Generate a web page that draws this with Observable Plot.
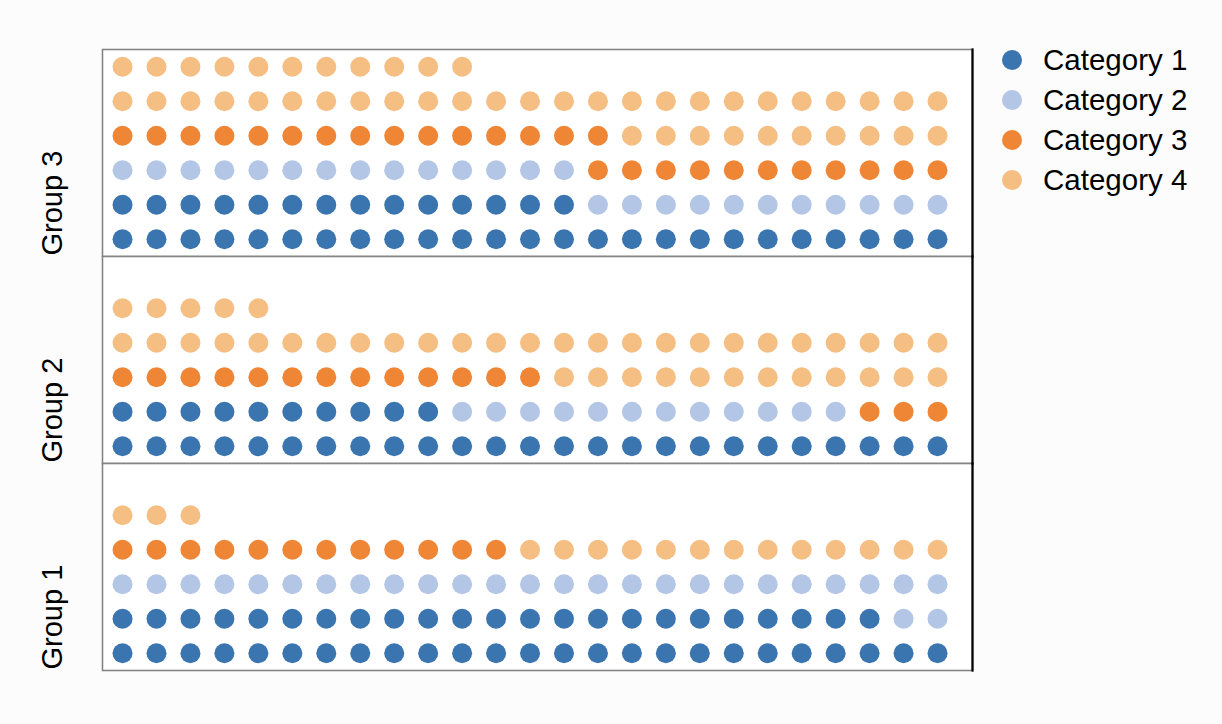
<!DOCTYPE html>
<html>
<head>
<meta charset="utf-8">
<script src="https://cdn.jsdelivr.net/npm/d3@7"></script>
<script src="https://cdn.jsdelivr.net/npm/@observablehq/plot@0.6"></script>
<style>
  html, body { margin: 0; padding: 0; background: #fcfcfc; }
  #wrap { position: relative; width: 1222px; height: 724px; font-family: "Liberation Sans", Arial, sans-serif; }
  #chart { position: absolute; left: 0; top: 0; }
  #legend { position: absolute; left: 980px; top: 0; }
</style>
</head>
<body>
<div id="wrap"><div id="chart"></div><div id="legend"></div></div>
<script>
// ---- data ----
const groups = ["Group 1", "Group 2", "Group 3"];
const categories = ["Category 1", "Category 2", "Category 3", "Category 4"];
const colors = ["#3a75b0", "#b3c6e6", "#ef8636", "#f5bf84"];
const group1Counts = [48, 27, 12, 16];
const group2Counts = [35, 12, 16, 42];
const group3Counts = [39, 25, 26, 46];
const columnsPerRow = 25;

const countsByGroup = [group1Counts, group2Counts, group3Counts];

// waffle layout: fill left-to-right, bottom-to-top
const dots = [];
groups.forEach((g, gi) => {
  let i = 0;
  countsByGroup[gi].forEach((n, ci) => {
    for (let k = 0; k < n; ++k, ++i) {
      dots.push({group: g, category: categories[ci], col: (i % columnsPerRow) + 1, row: Math.floor(i / columnsPerRow) + 1});
    }
  });
});
const maxRows = d3.max(dots, d => d.row);

const chart = Plot.plot({
  width: 980,
  height: 724,
  marginLeft: 102,
  marginRight: 8,
  marginTop: 49,
  marginBottom: 54,
  style: {background: "transparent", fontFamily: "'Liberation Sans', Arial, sans-serif"},
  x: {domain: [0.41, columnsPerRow + 1.03], axis: null},
  y: {domain: [0.5, maxRows + 0.5], axis: null},
  fy: {domain: groups.slice().reverse(), padding: 0, axis: null},
  color: {domain: categories, range: colors},
  marks: [
    Plot.frame({fill: "white", stroke: "#858585", strokeWidth: 1.6}),
    Plot.frame({anchor: "right", stroke: "black", strokeWidth: 2.2}),
    Plot.dot(dots, {x: "col", y: "row", fy: "group", fill: "category", r: 10, stroke: null}),
    Plot.text(groups, {fy: d => d, text: d => d, frameAnchor: "bottom-left", rotate: -90,
      textAnchor: "start", lineAnchor: "bottom", dx: -41, dy: -1, fontSize: 29, fill: "black"})
  ]
});
document.getElementById("chart").appendChild(chart);

// ---- legend ----
const lg = d3.select("#legend").append("svg").attr("width", 242).attr("height", 220);
const item = lg.selectAll("g").data(categories).join("g")
  .attr("transform", (d, i) => `translate(0, ${60 + i * 40})`);
item.append("circle").attr("cx", 32).attr("cy", 0).attr("r", 10).attr("fill", (d, i) => colors[i]);
item.append("text").attr("x", 63).attr("y", 10.4).attr("font-size", 29.5)
  .attr("font-family", "'Liberation Sans', Arial, sans-serif").attr("fill", "black").text(d => d);
</script>
</body>
</html>
